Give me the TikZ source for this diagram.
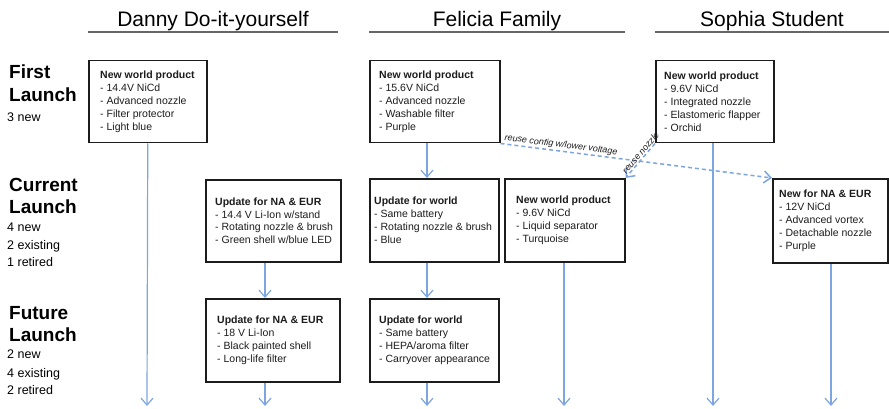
\documentclass[tikz,border=0pt]{standalone}
\usepackage{fontspec}
\setmainfont{Liberation Sans}
\usetikzlibrary{arrows.meta}
\definecolor{flow}{RGB}{125,165,222}
\definecolor{ink}{RGB}{28,28,28}
\begin{document}
\begin{tikzpicture}[x=1pt,y=-1pt,
  box/.style={draw=ink, line width=1.5pt, rectangle, inner sep=0pt, anchor=north west},
  boxtext/.style={anchor=west, align=left, inner sep=0pt, text=ink,
    font=\fontsize{10.5}{12.8}\selectfont},
  head/.style={anchor=base, inner sep=0pt, font=\fontsize{21}{25}\selectfont},
  rowhead/.style={anchor=base west, inner sep=0pt, font=\fontsize{19}{22}\selectfont\bfseries},
  rowcount/.style={anchor=base west, inner sep=0pt, font=\fontsize{12.5}{15}\selectfont},
  rule/.style={draw=black!60, line width=1.3pt},
  flowline/.style={draw=flow, line width=1.2pt, -{Straight Barb[length=7pt,width=12pt]}},
  reuse/.style={flowline, line width=1.5pt, dash pattern=on 4pt off 3pt},
  reuselab/.style={font=\fontsize{9}{10}\selectfont\itshape, text=ink, inner sep=1pt}
]
\useasboundingbox (0,0) rectangle (889,409);

% persona headers
\node[head] (hd) at (213,27) {Danny Do-it-yourself};
\node[head] (hf) at (497,27) {Felicia Family};
\node[head] (hs) at (772,27) {Sophia Student};
\coordinate (ud1) at (88,32);  \coordinate (ud2) at (338,32);
\coordinate (uf1) at (369,32); \coordinate (uf2) at (625,32);
\coordinate (us1) at (655,32); \coordinate (us2) at (889,32);
\draw[rule] (ud1) -- (ud2);
\draw[rule] (uf1) -- (uf2);
\draw[rule] (us1) -- (us2);

% launch rows
\node[rowhead] (r1a) at (9,79) {First};
\node[rowhead] (r1b) at (9,102) {Launch};
\node[rowcount] (r1c) at (7,122) {3 new};

\node[rowhead] (r2a) at (9,191) {Current};
\node[rowhead] (r2b) at (9,213) {Launch};
\node[rowcount] (r2c) at (7,231) {4 new};
\node[rowcount] (r2d) at (7,249) {2 existing};
\node[rowcount] (r2e) at (7,266) {1 retired};

\node[rowhead] (r3a) at (9,319) {Future};
\node[rowhead] (r3b) at (9,341) {Launch};
\node[rowcount] (r3c) at (7,358) {2 new};
\node[rowcount] (r3d) at (7,377) {4 existing};
\node[rowcount] (r3e) at (7,394) {2 retired};

% product boxes
\node[box, minimum width=118, minimum height=82] (a1) at (88,60) {};
\node[boxtext] (a1t) at ([xshift=12pt]a1.west)
  {\textbf{New world product}\\- 14.4V NiCd\\- Advanced nozzle\\- Filter protector\\- Light blue};

\node[box, minimum width=130, minimum height=82] (f1) at (369,60) {};
\node[boxtext] (f1t) at ([xshift=10pt]f1.west)
  {\textbf{New world product}\\- 15.6V NiCd\\- Advanced nozzle\\- Washable filter\\- Purple};

\node[box, minimum width=118, minimum height=82] (s1) at (655,60) {};
\node[boxtext] (s1t) at ([xshift=9pt]s1.west)
  {\textbf{New world product}\\- 9.6V NiCd\\- Integrated nozzle\\- Elastomeric flapper\\- Orchid};

\node[box, minimum width=135, minimum height=82] (d2) at (205,179) {};
\node[boxtext] (d2t) at ([xshift=10pt]d2.west)
  {\textbf{Update for NA \& EUR}\\- 14.4 V Li-Ion w/stand\\- Rotating nozzle \& brush\\- Green shell w/blue LED};

\node[box, minimum width=129, minimum height=83] (f2) at (369,178) {};
\node[boxtext] (f2t) at ([xshift=5pt]f2.west)
  {\textbf{Update for world}\\- Same battery\\- Rotating nozzle \& brush\\- Blue};

\node[box, minimum width=120, minimum height=83] (g2) at (504,178) {};
\node[boxtext] (g2t) at ([xshift=12pt]g2.west)
  {\textbf{New world product}\\- 9.6V NiCd\\- Liquid separator\\- Turquoise};

\node[box, minimum width=115, minimum height=84] (s2) at (772,178) {};
\node[boxtext] (s2t) at ([xshift=7pt]s2.west)
  {\textbf{New for NA \& EUR}\\- 12V NiCd\\- Advanced vortex\\- Detachable nozzle\\- Purple};

\node[box, minimum width=134, minimum height=83] (d3) at (205,298) {};
\node[boxtext] (d3t) at ([xshift=12pt]d3.west)
  {\textbf{Update for NA \& EUR}\\- 18 V Li-Ion\\- Black painted shell\\- Long-life filter};

\node[box, minimum width=129, minimum height=83] (f3) at (369,298) {};
\node[boxtext] (f3t) at ([xshift=10pt]f3.west)
  {\textbf{Update for world}\\- Same battery\\- HEPA/aroma filter\\- Carryover appearance};

% product lines running forward in time
\coordinate (xd) at (265,0);
\coordinate (xf) at (427,0);
\coordinate (ea) at (147,406);
\coordinate (ed) at (265,406);
\coordinate (ef) at (427,406);
\coordinate (eg) at (564,406);
\coordinate (es) at (713,406);
\coordinate (et) at (831,406);

\draw[flowline] (a1.south) -- (ea);
\draw[flowline] (d2.south -| xd) -- (d3.north -| xd);
\draw[flowline] (d3.south -| xd) -- (ed);
\draw[flowline] (f1.south -| xf) -- (f2.north -| xf);
\draw[flowline] (f2.south -| xf) -- (f3.north -| xf);
\draw[flowline] (f3.south -| xf) -- (ef);
\draw[flowline] (g2.south -| eg) -- (eg);
\draw[flowline] (s1.south -| es) -- (es);
\draw[flowline] (s2.south -| et) -- (et);

% carry-over links
\draw[reuse] (f1.south east) -- node[reuselab, pos=0.22, above, sloped] {reuse config w/lower voltage} (s2.north west);
\draw[reuse] (s1.south west) -- node[reuselab, pos=0.36, above, sloped] {reuse nozzle} (g2.north east);

\end{tikzpicture}
\end{document}
